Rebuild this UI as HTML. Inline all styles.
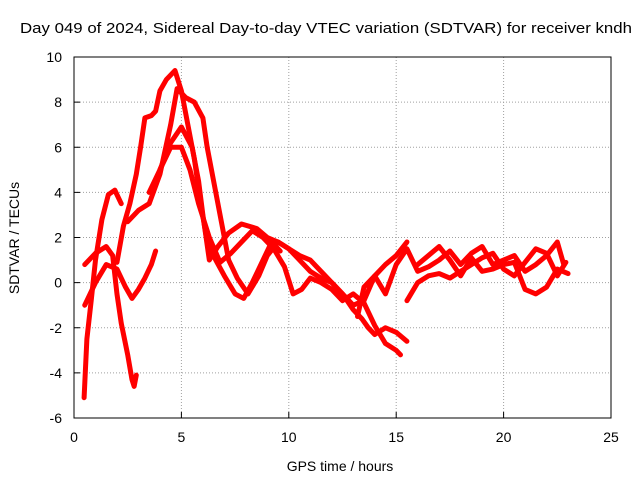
<!DOCTYPE html>
<html><head><meta charset="utf-8">
<style>
body{margin:0;background:#fff;}
svg{display:block;font-family:"Liberation Sans",sans-serif;}
</style></head>
<body>
<svg id="chart" width="640" height="480">
<text x="20" y="33" font-size="15" textLength="612" lengthAdjust="spacingAndGlyphs">Day 049 of 2024, Sidereal Day-to-day VTEC variation (SDTVAR) for receiver kndh</text>
<text x="340" y="471" font-size="14" text-anchor="middle">GPS time / hours</text>
<text transform="translate(19,238) rotate(-90)" font-size="14" text-anchor="middle">SDTVAR / TECUs</text>
<g id="grid"></g><g id="series"></g><g id="axes"></g>
</svg>
<script>
const xTicks=[0,5,10,15,20,25];
const yTicks=[-6,-4,-2,0,2,4,6,8,10];
const t1=[[0.47,-5.1],[0.6,-2.5],[0.8,-0.8],[1.0,1.0],[1.3,2.8],[1.6,3.9],[1.9,4.1],[2.2,3.5]];
const t2=[[0.5,0.8],[1.0,1.3],[1.5,1.6],[1.8,1.2],[2.0,-0.5],[2.2,-1.8],[2.5,-3.2],[2.7,-4.3],[2.8,-4.6],[2.9,-4.1]];
const t3=[[0.5,-1.0],[1,0],[1.5,0.8],[2,0.6],[2.4,-0.2],[2.7,-0.7],[3.0,-0.3],[3.3,0.2],[3.6,0.8],[3.8,1.4]];
const t4=[[2.0,0.9],[2.3,2.5],[2.6,3.5],[2.9,4.8],[3.1,6.0],[3.3,7.3],[3.6,7.4],[3.8,7.6],[4.0,8.5],[4.3,9.0],[4.7,9.4],[5.0,8.5],[5.3,7.0],[5.6,5.5],[5.9,3.5],[6.2,1.8],[6.6,1.0],[7.0,0.3],[7.5,-0.5],[7.9,-0.7],[8.3,0],[8.8,1.0],[9.2,1.8],[9.6,1.4]];
const t5=[[2.5,2.7],[3.0,3.2],[3.5,3.5],[4.0,4.8],[4.5,7.0],[4.8,8.6],[5.2,8.2],[5.6,8.0],[6.0,7.3],[6.2,6.0],[6.5,4.5],[6.9,2.5],[7.2,1.0],[7.6,0.2],[8.1,-0.5],[8.6,0.3],[9.0,1.2],[9.5,1.8],[10,1.5],[10.5,1.0],[11,0.5],[11.5,0.2],[12,0],[12.5,-0.5],[13,-1.0],[13.5,-0.8],[14,0.3],[14.5,0.8],[15,1.2],[15.5,1.8]];
const t6=[[3.5,4.0],[4,5.0],[4.5,6.2],[5.0,6.9],[5.5,6.0],[5.8,4.5],[6.0,3.0],[6.3,1.0],[6.7,1.6],[7.2,2.2],[7.8,2.6],[8.5,2.4],[9.0,2.0],[9.5,1.8],[10,1.5],[10.5,1.2],[11,1.0],[11.5,0.5],[12,0],[12.5,-0.5],[13,-1.2],[13.4,-1.6],[13.7,-2.0],[14,-2.3],[14.5,-2.0],[15,-2.2],[15.5,-2.6]];
const t7=[[4.0,5.0],[4.5,6.0],[5.0,6.0],[5.4,5.0],[5.8,3.5],[6.3,2.0],[6.8,0.9],[7.3,1.3],[7.8,1.8],[8.3,2.3],[8.8,2.0],[9.3,1.5],[9.8,0.7],[10.2,-0.5],[10.6,-0.3],[11,0.2],[11.5,0],[12,-0.3],[12.5,-0.8],[13,-0.5],[13.5,-0.9],[14,-1.9],[14.5,-2.7],[15,-3.0],[15.2,-3.2]];
const t8=[[13.2,-1.5],[13.5,-0.2],[14,0.3],[14.5,-0.5],[15,0.8],[15.5,1.5],[16,0.5],[16.5,0.7],[17,1.0],[17.5,1.4],[18,0.8],[18.5,1.3],[19,1.6],[19.5,0.8],[20,1.0],[20.5,1.2],[21,0.5],[21.5,0.8],[22,1.2],[22.5,1.8],[22.8,0.8]];
const t9=[[15.5,-0.8],[16,0],[16.5,0.3],[17,0.4],[17.5,0.2],[18,0.5],[18.5,0.8],[19,1.1],[19.5,1.3],[20,0.6],[20.5,0.3],[21,0.9],[21.5,1.5],[22,1.3],[22.5,0.3],[22.9,0.9]];
const t10=[[16,0.8],[16.5,1.2],[17,1.6],[17.5,1.0],[18,0.3],[18.5,1.1],[19,0.5],[19.5,0.6],[20,0.8],[20.5,0.9],[21,-0.3],[21.5,-0.5],[22,-0.2],[22.5,0.6],[23,0.4]];
const tracks=[t1,t2,t3,t4,t5,t6,t7,t8,t9,t10];

const L=74,R=611,T=57,B=418;
const xs=v=>L+(v-0)/25*(R-L);
const ys=v=>B-(v+6)/16*(B-T);
const NS="http://www.w3.org/2000/svg";
function mk(tag,attrs,parent){const e=document.createElementNS(NS,tag);for(const k in attrs)e.setAttribute(k,attrs[k]);parent.appendChild(e);return e;}
const grid=document.getElementById('grid'),axes=document.getElementById('axes'),ser=document.getElementById('series');
xTicks.forEach(t=>{
  if(t>0&&t<25){const g=mk('line',{x1:xs(t),x2:xs(t),y1:T,y2:B,stroke:'#a0a0a0','stroke-dasharray':'1,2'},grid);
  
  }
  const tk=mk('line',{x1:xs(t),x2:xs(t),y1:B,y2:B-6,stroke:'#000'},axes);
  
  
  const tx=mk('text',{x:xs(t),y:B+24,'font-size':14,'text-anchor':'middle'},axes);tx.textContent=t;
  
  
});
yTicks.forEach(t=>{
  if(t>-6&&t<10){const g=mk('line',{x1:L,x2:R,y1:ys(t),y2:ys(t),stroke:'#a0a0a0','stroke-dasharray':'1,2'},grid);
  
  }
  const tk=mk('line',{x1:L,x2:L+6,y1:ys(t),y2:ys(t),stroke:'#000'},axes);
  
  
  const tx=mk('text',{x:L-12,y:ys(t)+5,'font-size':14,'text-anchor':'end'},axes);tx.textContent=t;
  
  
});
const fr=mk('rect',{x:L,y:T,width:R-L,height:B-T,fill:'none',stroke:'#000'},axes);


tracks.forEach((tr,i)=>{
  const p=mk('polyline',{points:tr.map(d=>xs(d[0])+','+ys(d[1])).join(' '),fill:'none',stroke:'#ff0000','stroke-width':5,'stroke-linejoin':'round','stroke-linecap':'round'},ser);
  
  
});
</script>
</body></html>
